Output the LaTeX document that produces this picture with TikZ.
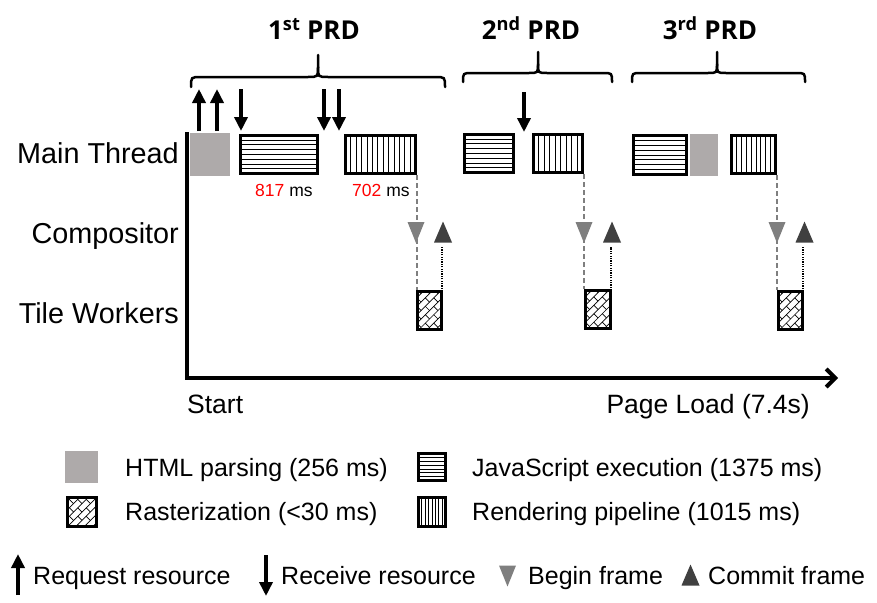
\documentclass[tikz,border=0pt]{standalone}
\usepackage{fontspec}
\setmainfont{Liberation Sans}
\newfontfamily\prdfont{Open Sans}
\usetikzlibrary{arrows.meta,calc}
\definecolor{htmlgray}{RGB}{174,170,170}
\definecolor{begingray}{RGB}{127,127,127}
\definecolor{commitgray}{RGB}{64,64,64}
\definecolor{msred}{RGB}{255,0,0}
\newcommand\mkbox[6]{\node[#1, minimum width={(#5)-(#3)-2.6}, minimum height={(#6)-(#4)-2.6}] (#2) at ({((#3)+(#5))/2},{((#4)+(#6))/2}) {};}
\tikzset{
 boxbase/.style={draw, line width=2.6pt, inner sep=0pt, outer sep=0pt, fill=white},
 stripe/.style={line width=0.9pt, black, solid},
 htmlbox/.style={draw=htmlgray, fill=htmlgray, line width=2.6pt, inner sep=0pt, outer sep=0pt},
 jsbox/.style={boxbase, path picture={\foreach \i in {1,...,#1}{\draw[stripe] ($(path picture bounding box.north west)!{\i/(#1+1)}!(path picture bounding box.south west)$) -- ($(path picture bounding box.north east)!{\i/(#1+1)}!(path picture bounding box.south east)$);}}},
 jsbox/.default=7,
 renderbox/.style={boxbase, path picture={\foreach \i in {1,...,#1}{\draw[stripe] ($(path picture bounding box.north west)!{\i/(#1+1)}!(path picture bounding box.north east)$) -- ($(path picture bounding box.south west)!{\i/(#1+1)}!(path picture bounding box.south east)$);}}},
 renderbox/.default=8,
 raster/.style={boxbase, path picture={\begin{scope}[shift={(path picture bounding box.center)}, x={(0.7071pt,0.7071pt)}, y={(-0.7071pt,0.7071pt)}]
   \foreach \k in {-8,...,8}{\draw[stripe, line width=0.7pt] (-50,{\k*6}) -- (50,{\k*6});
     \foreach \j in {-6,...,6}{\draw[stripe, line width=0.7pt] ({\j*12+mod(\k+20,2)*6},{\k*6}) -- ++(0,6);}}
   \end{scope}}},
 resarrow/.style={line width=3.5pt, -{Triangle[width=13pt,length=14pt]}},
 dashline/.style={begingray, line width=2pt, dash pattern=on 5pt off 3pt},
 dotline/.style={black, line width=2pt, dash pattern=on 1.2pt off 1.2pt},
 bracestyle/.style={line width=2.5pt, line cap=round},
 lab/.style={font=\fontsize{28.8}{32}\selectfont, inner sep=0pt},
 axlab/.style={font=\fontsize{26.5}{30}\selectfont, inner sep=0pt},
 legtext/.style={font=\fontsize{25}{28}\selectfont, inner sep=0pt},
 mstext/.style={font=\fontsize{17.5}{20}\selectfont, inner sep=0pt},
 prd/.style={font=\prdfont\bfseries\fontsize{26}{30}\selectfont, inner sep=0pt},
 begintri/.pic={\fill[begingray] (-8.5,-10.5) -- (8.5,-10.5) -- (0,10.5) -- cycle;},
 committri/.pic={\fill[commitgray] (-9,10.5) -- (9,10.5) -- (0,-10.5) -- cycle;},
}
\begin{document}
\begin{tikzpicture}[x=1pt,y=-1pt]
\useasboundingbox (0,0) rectangle (877,602);
% titles
\node[prd] (p1) at (314,28.5) {1\textsuperscript{st} PRD};
\node[prd] (p2) at (531,28.5) {2\textsuperscript{nd} PRD};
\node[prd] (p3) at (710,28.5) {3\textsuperscript{rd} PRD};
% braces
\draw[bracestyle] (191,87) .. controls (191,77) .. (201,77) -- (308,77) .. controls (318,77) .. (318,67) -- (318,55);
\draw[bracestyle] (445,87) .. controls (445,77) .. (435,77) -- (328,77) .. controls (318,77) .. (318,67);
\draw[bracestyle] (463,82) .. controls (463,73) .. (472,73) -- (529,73) .. controls (538,73) .. (538,64) -- (538,52);
\draw[bracestyle] (612,82) .. controls (612,73) .. (603,73) -- (547,73) .. controls (538,73) .. (538,64);
\draw[bracestyle] (632,82) .. controls (632,73) .. (641,73) -- (708,73) .. controls (717,73) .. (717,64) -- (717,52);
\draw[bracestyle] (805,82) .. controls (805,73) .. (796,73) -- (726,73) .. controls (717,73) .. (717,64);
% row labels
\node[lab, anchor=base east] (lmain) at (179,163) {Main Thread};
\node[lab, anchor=base east] (lcomp) at (179,243) {Compositor};
\node[lab, anchor=base east] (ltile) at (179,323) {Tile Workers};
% axes
\coordinate (ytop) at (187,132);
\coordinate (origin) at (187,378);
\coordinate (xend) at (838,378);
\draw[line width=4pt, line join=miter, -{Straight Barb[length=9pt,width=18pt]}] (ytop) -- (origin) -- (xend);
\node[axlab, anchor=base west] (lstart) at (187,413) {Start};
\node[axlab, anchor=base east] (lend) at (810,413) {Page Load (7.4s)};
% dashed connectors (behind)
\coordinate (r1c) at (416.5,175);
\coordinate (r2c) at (583.5,174);
\coordinate (r3c) at (776.5,175);
\draw[dashline] (r1c) -- (416.5,290);
\draw[dashline] (r2c) -- (583.5,289);
\draw[dashline] (r3c) -- (776.5,290);
% main thread boxes
\mkbox{htmlbox}{h1}{190}{133}{230}{176}
\mkbox{jsbox}{j1}{239}{134}{319}{175}
\mkbox{renderbox=12}{r1}{344}{134}{417}{175}
\mkbox{jsbox}{j2}{463}{133}{515}{174}
\mkbox{renderbox=8}{r2}{532}{133}{584}{174}
\mkbox{jsbox}{j3}{632}{134}{688}{176}
\mkbox{htmlbox}{h3}{690}{134}{718}{176}
\mkbox{renderbox=8}{r3}{730}{134}{777}{175}
\node[mstext, anchor=base west] (ms1) at (255,196) {\textcolor{msred}{817} ms};
\node[mstext, anchor=base west] (ms2) at (352,196) {\textcolor{msred}{702} ms};
% request / receive arrows
\coordinate (a1s) at (199,131); \coordinate (a1e) at (199,89);
\coordinate (a2s) at (217,131); \coordinate (a2e) at (217,89);
\coordinate (a3s) at (241,89); \coordinate (a3e) at (241,131);
\coordinate (a4s) at (324,89); \coordinate (a4e) at (324,131);
\coordinate (a5s) at (339,89); \coordinate (a5e) at (339,131);
\coordinate (a6s) at (524,92); \coordinate (a6e) at (524,132);
\foreach \n in {1,...,6} \draw[resarrow] (a\n s) -- (a\n e);
% tile boxes
\mkbox{raster}{t1}{416}{290}{443}{331}
\mkbox{raster}{t2}{584}{289}{612}{330}
\mkbox{raster}{t3}{777}{290}{804}{331}
% compositor triangles
\coordinate (bf1) at (416,232.5); \coordinate (cf1) at (443,232);
\coordinate (bf2) at (584,232.5); \coordinate (cf2) at (612,232);
\coordinate (bf3) at (777,232.5); \coordinate (cf3) at (804.5,232);
\foreach \n in {1,2,3} {\pic at (bf\n) {begintri}; \pic at (cf\n) {committri};}
\draw[dotline] (t1.north east) -- (t1.north east |- 0,247);
\draw[dotline] (t2.north east) -- (t2.north east |- 0,247);
\draw[dotline] (t3.north east) -- (t3.north east |- 0,247);
% legend
\mkbox{htmlbox}{lg1}{65}{451}{98}{483}
\node[legtext, anchor=base west] (lt1) at (125,476) {HTML parsing (256 ms)};
\mkbox{jsbox=6}{lg2}{417}{452}{447}{482}
\node[legtext, anchor=base west] (lt2) at (472,476) {JavaScript execution (1375 ms)};
\mkbox{raster}{lg3}{66}{496}{98}{528}
\node[legtext, anchor=base west] (lt3) at (125,520) {Rasterization (<30 ms)};
\mkbox{renderbox=7}{lg4}{417}{496}{447}{528}
\node[legtext, anchor=base west] (lt4) at (472,520) {Rendering pipeline (1015 ms)};
% bottom legend
\coordinate (lu1) at (18,595); \coordinate (lu2) at (18,554);
\draw[resarrow] (lu1) -- (lu2);
\node[legtext, anchor=base west] (lt5) at (33,584) {Request resource};
\coordinate (ld1) at (266,555); \coordinate (ld2) at (266,596);
\draw[resarrow] (ld1) -- (ld2);
\node[legtext, anchor=base west] (lt6) at (281,584) {Receive resource};
\coordinate (lbf) at (507.5,576);
\pic at (lbf) {begintri};
\node[legtext, anchor=base west] (lt7) at (528,584) {Begin frame};
\coordinate (lcf) at (690.5,575);
\pic at (lcf) {committri};
\node[legtext, anchor=base west] (lt8) at (708,584) {Commit frame};
\end{tikzpicture}
\end{document}
